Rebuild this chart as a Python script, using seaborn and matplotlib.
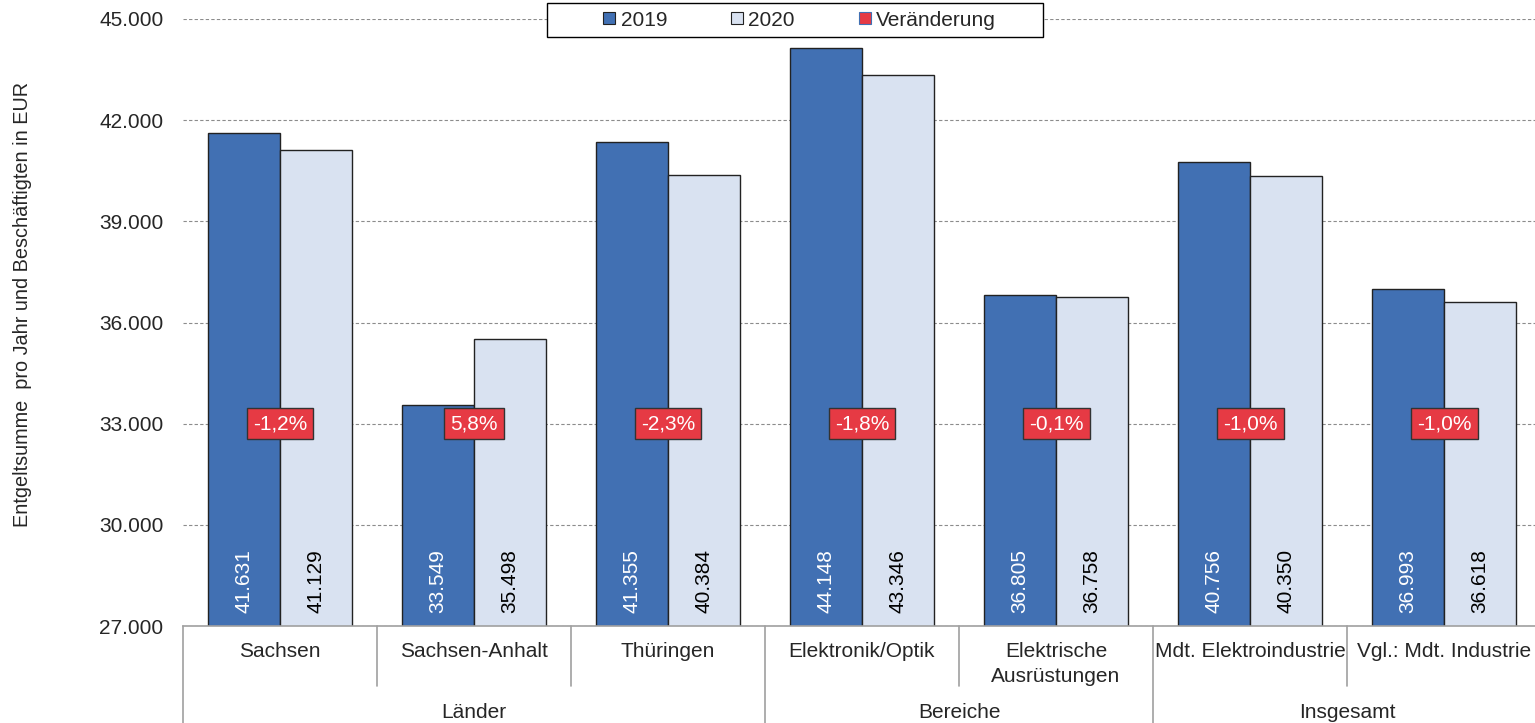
import matplotlib
matplotlib.use("Agg")
import matplotlib.pyplot as plt
from matplotlib.lines import Line2D
from matplotlib.patches import Rectangle
import matplotlib.transforms as mtransforms
import seaborn as sns
import pandas as pd

# ---------------- data ----------------
categories = ["Sachsen", "Sachsen-Anhalt", "Thüringen", "Elektronik/Optik",
              "Elektrische\nAusrüstungen", "Mdt. Elektroindustrie", "Vgl.: Mdt. Industrie"]
groups = ["Länder", "Bereiche", "Insgesamt"]
group_sizes = [3, 2, 2]
values_2019 = [41631, 33549, 41355, 44148, 36805, 40756, 36993]
values_2020 = [41129, 35498, 40384, 43346, 36758, 40350, 36618]
change_labels = ["-1,2%", "5,8%", "-2,3%", "-1,8%", "-0,1%", "-1,0%", "-1,0%"]
series = ["2019", "2020"]
y_ticks = [27000, 30000, 33000, 36000, 39000, 42000, 45000]
y_label = "Entgeltsumme  pro Jahr und Beschäftigten in EUR"

# ---------------- style ----------------
sns.set_style("white")
plt.rcParams["font.family"] = ["Liberation Sans", "DejaVu Sans"]
FS = 15

c2019 = "#4170B3"
c2020 = "#D9E2F1"
cred = "#E63A44"

df = pd.DataFrame({
    "Kategorie": categories * 2,
    "Jahr": [series[0]] * len(categories) + [series[1]] * len(categories),
    "Wert": values_2019 + values_2020,
})

W, H = 1535, 723
fig = plt.figure(figsize=(W / 100, H / 100), dpi=100)
ax = fig.add_axes([183 / W, (H - 626) / H, 1358 / W, 607 / H])

sns.barplot(data=df, x="Kategorie", y="Wert", hue="Jahr", order=categories,
            hue_order=series, palette=[c2019, c2020], width=0.742, gap=0,
            saturation=1, edgecolor="#222222", linewidth=1.0, ax=ax,
            legend=False, errorbar=None)

ax.set_ylim(27000, 45000)
ax.set_xlim(-0.5, len(categories) - 0.5)
ax.set_yticks(y_ticks)
ax.set_yticklabels([f"{v:,}".replace(",", ".") for v in y_ticks], fontsize=FS)
ax.tick_params(axis="y", length=0, pad=14)
ax.set_xticks([])
ax.set_xlabel("")
ax.set_ylabel("")
for s in ["left", "right", "top"]:
    ax.spines[s].set_visible(False)
ax.spines["bottom"].set_color("#A0A0A0")
ax.spines["bottom"].set_linewidth(1.2)
ax.yaxis.grid(True, color="#8C8C8C", linestyle=(0, (3, 2)), linewidth=0.8)
ax.set_axisbelow(True)
ax.spines["bottom"].set_zorder(5)

# bar value labels
bar_off = 13 / 607
blend = mtransforms.blended_transform_factory(ax.transData, ax.transAxes)
for ci, cont in enumerate(ax.containers):
    col = "white" if ci == 0 else "black"
    for bar, v in zip(cont.patches, values_2019 if ci == 0 else values_2020):
        xc = bar.get_x() + bar.get_width() / 2
        ax.text(xc, bar_off, f"{v:,}".replace(",", "."), rotation=90,
                ha="center", va="bottom", fontsize=FS, color=col,
                transform=blend, zorder=6)

# change labels
for i, lab in enumerate(change_labels):
    ax.text(i, 33000, lab, ha="center", va="center", fontsize=FS, color="white",
            zorder=7,
            bbox=dict(boxstyle="square,pad=0.3", facecolor=cred,
                      edgecolor="#333333", linewidth=1.0))

# multi-level category axis
line_col = "#A0A0A0"
n = len(categories)
group_edges = [0]
for gs in group_sizes:
    group_edges.append(group_edges[-1] + gs)
for k in range(n):
    xb = k - 0.5
    y0 = -97 / 607 if k in group_edges else -60 / 607
    ax.plot([xb, xb], [0, y0], transform=blend, color=line_col,
            linewidth=1.2, clip_on=False)

for i, cat in enumerate(categories):
    ax.text(i, -16 / 607, cat, ha="center", va="top", fontsize=FS,
            transform=blend, linespacing=1.4)

for gi, g in enumerate(groups):
    xc = (group_edges[gi] + group_edges[gi + 1] - 1) / 2
    ax.text(xc, -86 / 607, g, ha="center", va="center", fontsize=FS,
            transform=blend)

# y label
fig.text(23 / W, 1 - 304 / H, y_label, rotation=90, ha="center", va="center",
         fontsize=14.3)

# legend (frame drawn separately for exact size)
fig.patches.append(Rectangle((547 / W, 1 - 37 / H), 496 / W, 34 / H,
                             transform=fig.transFigure, facecolor="white",
                             edgecolor="black", linewidth=1.0, zorder=9))
handles = [
    Line2D([], [], marker="s", linestyle="", markersize=9,
           markerfacecolor=c2019, markeredgecolor="#222222", markeredgewidth=0.8),
    Line2D([], [], marker="s", linestyle="", markersize=9,
           markerfacecolor=c2020, markeredgecolor="#222222", markeredgewidth=0.8),
    Line2D([], [], marker="s", linestyle="", markersize=9,
           markerfacecolor=cred, markeredgecolor="#4170B3", markeredgewidth=0.8),
]
leg = fig.legend(handles, series + ["Veränderung"], loc="center",
                 bbox_to_anchor=(799 / W, 1 - 20 / H), ncol=3, fontsize=FS,
                 frameon=False, handlelength=0.7, handletextpad=0.2,
                 columnspacing=3.0, borderpad=0, borderaxespad=0)
leg.set_zorder(10)

fig.savefig("out.png", dpi=100)
